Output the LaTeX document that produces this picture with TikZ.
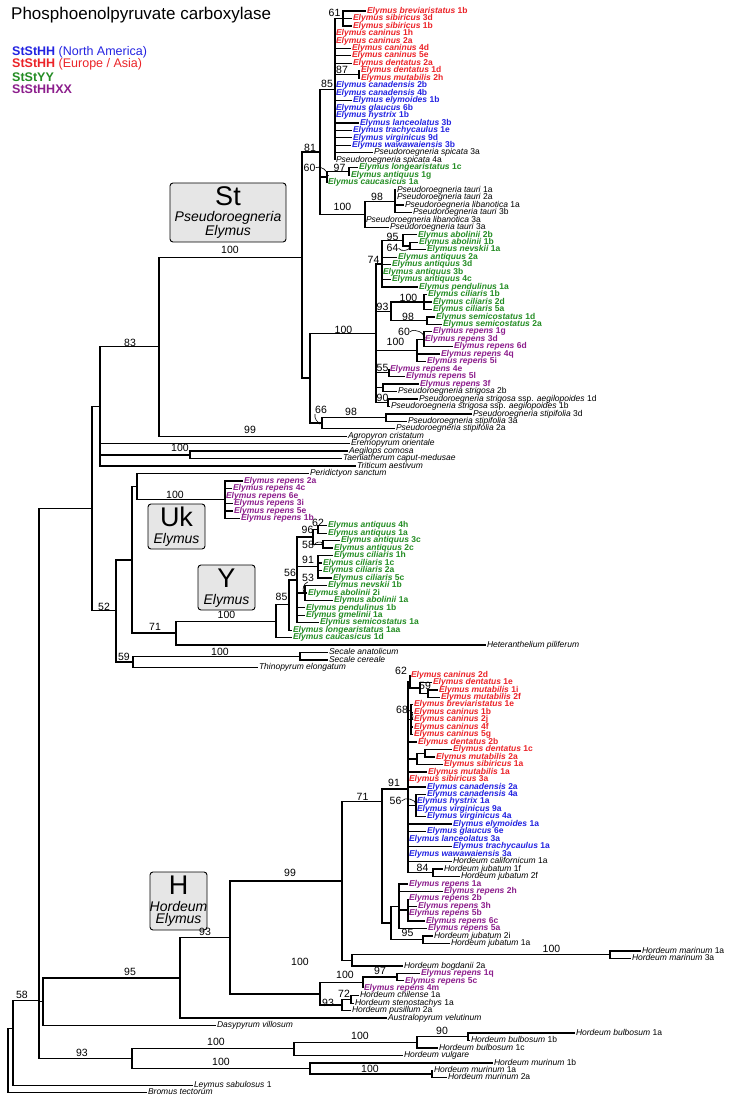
\documentclass[tikz,border=0pt]{standalone}
\usepackage{fontspec}
\setmainfont{Liberation Sans}
\usetikzlibrary{arrows.meta}
\definecolor{cna}{RGB}{35,35,225}
\definecolor{ceu}{RGB}{235,35,40}
\definecolor{cyy}{RGB}{35,140,35}
\definecolor{chx}{RGB}{140,30,140}
\definecolor{boxgray}{RGB}{230,230,230}
\newcommand{\tx}[2]{\textit{#1} #2}
\tikzset{
  lk/.style={anchor=west, inner xsep=0.8pt, inner ysep=0pt, text height=6pt, text depth=1.6pt, font=\fontsize{8.5}{9}\selectfont},
  ln/.style={lk, text=cna, font=\fontsize{8.5}{9}\selectfont\bfseries},
  le/.style={lk, text=ceu, font=\fontsize{8.5}{9}\selectfont\bfseries},
  lg/.style={lk, text=cyy, font=\fontsize{8.5}{9}\selectfont\bfseries},
  lp/.style={lk, text=chx, font=\fontsize{8.5}{9}\selectfont\bfseries},
  sv/.style={inner sep=0pt, font=\fontsize{10.5}{11}\selectfont},
  br/.style={line width=1.35pt},
  hook/.style={line width=0.6pt, -{Stealth[length=2.5pt,width=2.5pt]}},
  clade/.style={draw, line width=0.9pt, fill=boxgray, rounded corners=3pt},
  big/.style={inner sep=0pt, font=\fontsize{27}{27}\selectfont},
  genus/.style={inner sep=0pt, font=\fontsize{14}{14}\selectfont\itshape},
  legend/.style={anchor=west, inner sep=0pt, font=\fontsize{12.5}{13}\selectfont}
}
\begin{document}
\begin{tikzpicture}[x=1pt, y=-7.46pt]
\useasboundingbox (0pt,0pt) rectangle (733pt,-1102pt);
% title and legend
\node[anchor=base west, inner sep=0pt, font=\fontsize{17}{18}\selectfont] (title) at (11pt,-20pt) {Phosphoenolpyruvate carboxylase};
\node[legend] (gna) at (12pt,-52pt) {\textcolor{cna}{\textbf{StStHH} (North America)}};
\node[legend] (geu) at (12pt,-64.5pt) {\textcolor{ceu}{\textbf{StStHH} (Europe / Asia)}};
\node[legend] (gyy) at (12pt,-77pt) {\textcolor{cyy}{\textbf{StStYY}}};
\node[legend] (ghx) at (12pt,-89.5pt) {\textcolor{chx}{\textbf{StStHHXX}}};
% genome boxes
\draw[clade] (170pt,-183pt) rectangle (286pt,-242pt);
\node[big] (tst) at (228pt,-196pt) {St};
\node[genus] (gst1) at (228pt,-218pt) {Pseudoroegneria};
\node[genus] (gst2) at (228pt,-232pt) {Elymus};
\draw[clade] (148pt,-504pt) rectangle (205pt,-549pt);
\node[big] (tuk) at (176.5pt,-517pt) {Uk};
\node[genus] (guk) at (176.5pt,-540pt) {Elymus};
\draw[clade] (198pt,-565pt) rectangle (255pt,-610pt);
\node[big] (tyy) at (226.5pt,-578pt) {Y};
\node[genus] (gyy2) at (226.5pt,-600.5pt) {Elymus};
\draw[clade] (150pt,-872pt) rectangle (207pt,-930pt);
\node[big] (thh) at (178.5pt,-885pt) {H};
\node[genus] (ghh1) at (178.5pt,-906pt) {Hordeum};
\node[genus] (ghh2) at (178.5pt,-920pt) {Elymus};
\begin{scope}[yshift=-3.54pt]
% ---------------- St clade ----------------
\node[le] (brev1b) at (366,1) {\tx{Elymus breviaristatus}{1b}};
\node[le] (sib3d) at (352,2) {\tx{Elymus sibiricus}{3d}};
\node[le] (sib1b) at (352,3) {\tx{Elymus sibiricus}{1b}};
\node[le] (can1h) at (335,4) {\tx{Elymus caninus}{1h}};
\node[le] (can2a) at (335,5) {\tx{Elymus caninus}{2a}};
\node[le] (can4d) at (351,6) {\tx{Elymus caninus}{4d}};
\node[le] (can5e) at (351,7) {\tx{Elymus caninus}{5e}};
\node[le] (den2a) at (352,8) {\tx{Elymus dentatus}{2a}};
\node[le] (den1d) at (360,9) {\tx{Elymus dentatus}{1d}};
\node[le] (mut2h) at (360,10) {\tx{Elymus mutabilis}{2h}};
\node[ln] (cnd2b) at (335,11) {\tx{Elymus canadensis}{2b}};
\node[ln] (cnd4b) at (335,12) {\tx{Elymus canadensis}{4b}};
\node[ln] (ely1b) at (352,13) {\tx{Elymus elymoides}{1b}};
\node[ln] (gla6b) at (335,14) {\tx{Elymus glaucus}{6b}};
\node[ln] (hys1b) at (335,15) {\tx{Elymus hystrix}{1b}};
\node[ln] (lan3b) at (359,16) {\tx{Elymus lanceolatus}{3b}};
\node[ln] (tra1e) at (352,17) {\tx{Elymus trachycaulus}{1e}};
\node[ln] (vir9d) at (352,18) {\tx{Elymus virginicus}{9d}};
\node[ln] (waw3b) at (351,19) {\tx{Elymus wawawaiensis}{3b}};
\node[lk] (spi3a) at (373,20) {\tx{Pseudoroegneria spicata}{3a}};
\node[lk] (spi4a) at (335,21) {\tx{Pseudoroegneria spicata}{4a}};
\node[lg] (lon1c) at (358,22) {\tx{Elymus longearistatus}{1c}};
\node[lg] (ant1g) at (350,23) {\tx{Elymus antiquus}{1g}};
\node[lg] (cau1a) at (327,24) {\tx{Elymus caucasicus}{1a}};
\node[lk] (tau1a) at (396,25) {\tx{Pseudoroegneria tauri}{1a}};
\node[lk] (tau2a) at (396,26) {\tx{Pseudoroegneria tauri}{2a}};
\node[lk] (lib1a) at (404,27) {\tx{Pseudoroegneria libanotica}{1a}};
\node[lk] (tau3b) at (412,28) {\tx{Pseudoroegneria tauri}{3b}};
\node[lk] (lib3a) at (365,29) {\tx{Pseudoroegneria libanotica}{3a}};
\node[lk] (tau3a) at (389,30) {\tx{Pseudoroegneria tauri}{3a}};
\node[lg] (abo2b) at (417,31) {\tx{Elymus abolinii}{2b}};
\node[lg] (abo1b) at (418,32) {\tx{Elymus abolinii}{1b}};
\node[lg] (nev1a) at (426,33) {\tx{Elymus nevskii}{1a}};
\node[lg] (ant2a) at (397,34) {\tx{Elymus antiquus}{2a}};
\node[lg] (ant3d) at (391,35) {\tx{Elymus antiquus}{3d}};
\node[lg] (ant3b) at (382,36) {\tx{Elymus antiquus}{3b}};
\node[lg] (ant4c) at (391,37) {\tx{Elymus antiquus}{4c}};
\node[lg] (pen1a) at (418,38) {\tx{Elymus pendulinus}{1a}};
\node[lg] (cil1b) at (427,39) {\tx{Elymus ciliaris}{1b}};
\node[lg] (cil2d) at (432,40) {\tx{Elymus ciliaris}{2d}};
\node[lg] (cil5a) at (432,41) {\tx{Elymus ciliaris}{5a}};
\node[lg] (sem1d) at (435,42) {\tx{Elymus semicostatus}{1d}};
\node[lg] (sem2a) at (442,43) {\tx{Elymus semicostatus}{2a}};
\node[lp] (rep1g) at (432,44) {\tx{Elymus repens}{1g}};
\node[lp] (rep3d) at (424,45) {\tx{Elymus repens}{3d}};
\node[lp] (rep6d) at (453,46) {\tx{Elymus repens}{6d}};
\node[lp] (rep4q) at (440,47) {\tx{Elymus repens}{4q}};
\node[lp] (rep5i) at (426,48) {\tx{Elymus repens}{5i}};
\node[lp] (rep4e) at (389,49) {\tx{Elymus repens}{4e}};
\node[lp] (rep5l) at (405,50) {\tx{Elymus repens}{5l}};
\node[lp] (rep3f) at (419,51) {\tx{Elymus repens}{3f}};
\node[lk] (str2b) at (397,52) {\tx{Pseudoroegneria strigosa}{2b}};
\node[lk] (sta1d) at (418,53) {\tx{Pseudoroegneria strigosa}{ssp. \textit{aegilopoides} 1d}};
\node[lk] (sta1b) at (390,54) {\tx{Pseudoroegneria strigosa}{ssp. \textit{aegilopoides} 1b}};
\node[lk] (stp3d) at (472,55) {\tx{Pseudoroegneria stipifolia}{3d}};
\node[lk] (stp3a) at (407,56) {\tx{Pseudoroegneria stipifolia}{3a}};
\node[lk] (stp2a) at (395,57) {\tx{Pseudoroegneria stipifolia}{2a}};
\node[lk] (agr) at (347,58) {\textit{Agropyron cristatum}};
\node[lk] (ere) at (350,59) {\textit{Eremopyrum orientale}};
\node[lk] (aeg) at (348,60) {\textit{Aegilops comosa}};
\node[lk] (tae) at (342,61) {\textit{Taeniatherum caput-medusae}};
\node[lk] (tri) at (356,62) {\textit{Triticum aestivum}};
\coordinate (n61) at (343,2);
\coordinate (n87) at (359,9.5);
\coordinate (n85) at (335,11.5);
\coordinate (n97a) at (349,22.5);
\coordinate (n60a) at (327,23.25);
\coordinate (n98t) at (395,26.5);
\coordinate (n100t) at (365,28.3);
\coordinate (n81) at (320,19.9);
\coordinate (n64a) at (410,32.5);
\coordinate (n95a) at (403,31.75);
\coordinate (n74) at (382,34.9);
\coordinate (n100c) at (424,40);
\coordinate (n98s) at (427,42.5);
\coordinate (n93a) at (391,41.25);
\coordinate (n60r) at (424,45);
\coordinate (n100r) at (417,46.5);
\coordinate (n55) at (389,49.5);
\coordinate (nrs) at (383,51.5);
\coordinate (n90) at (388,53.5);
\coordinate (n100b) at (376,44.2);
\coordinate (n98p) at (386,55.5);
\coordinate (n66) at (322,56.25);
\coordinate (nsl) at (310,50.2);
\coordinate (nst) at (302,34);
\coordinate (n83) at (159,46);
\coordinate (nat) at (190,60.5);
\coordinate (nt1) at (100,54);
\draw[br] (n61) |- (brev1b.west) (n61) |- (sib3d.west) (n61) |- (sib1b.west)
  (n87) |- (den1d.west) (n87) |- (mut2h.west)
  (n85) |- (n61) (n85) |- (can1h.west) (n85) |- (can2a.west) (n85) |- (can4d.west)
  (n85) |- (can5e.west) (n85) |- (den2a.west) (n85) |- (n87) (n85) |- (cnd2b.west)
  (n85) |- (cnd4b.west) (n85) |- (ely1b.west) (n85) |- (gla6b.west) (n85) |- (hys1b.west)
  (n85) |- (lan3b.west) (n85) |- (tra1e.west) (n85) |- (vir9d.west) (n85) |- (waw3b.west)
  (n85) |- (spi3a.west) (n85) |- (spi4a.west)
  (n97a) |- (lon1c.west) (n97a) |- (ant1g.west)
  (n60a) |- (n97a) (n60a) |- (cau1a.west)
  (n98t) |- (tau1a.west) (n98t) |- (tau2a.west) (n98t) |- (lib1a.west) (n98t) |- (tau3b.west)
  (n100t) |- (n98t) (n100t) |- (lib3a.west) (n100t) |- (tau3a.west)
  (n81) |- (n85) (n81) |- (n60a) (n81) |- (n100t);
\draw[br] (n64a) |- (abo1b.west) (n64a) |- (nev1a.west)
  (n95a) |- (abo2b.west) (n95a) |- (n64a)
  (n74) |- (n95a) (n74) |- (ant2a.west) (n74) |- (ant3d.west) (n74) |- (ant3b.west)
  (n74) |- (ant4c.west) (n74) |- (pen1a.west)
  (n100c) |- (cil1b.west) (n100c) |- (cil2d.west) (n100c) |- (cil5a.west)
  (n98s) |- (sem1d.west) (n98s) |- (sem2a.west)
  (n93a) |- (n100c) (n93a) |- (n98s)
  (n60r) |- (rep1g.west) (n60r) |- (rep3d.west) (n60r) |- (rep6d.west)
  (n100r) |- (n60r) (n100r) |- (rep4q.west) (n100r) |- (rep5i.west)
  (n55) |- (rep4e.west) (n55) |- (rep5l.west)
  (nrs) |- (rep3f.west) (nrs) |- (str2b.west)
  (n90) |- (sta1d.west) (n90) |- (sta1b.west)
  (n100b) |- (n74) (n100b) |- (n93a) (n100b) |- (n100r) (n100b) |- (n55)
  (n100b) |- (nrs) (n100b) |- (n90)
  (n98p) |- (stp3d.west) (n98p) |- (stp3a.west)
  (n66) |- (n98p) (n66) |- (stp2a.west)
  (nsl) |- (n100b) (nsl) |- (n66)
  (nst) |- (n81) (nst) |- (nsl)
  (n83) |- (nst) (n83) |- (agr.west)
  (nat) |- (aeg.west) (nat) |- (tae.west)
  (nt1) |- (n83) (nt1) |- (ere.west) (nt1) |- (nat) (nt1) |- (tri.west);
\node[sv] (s61) at (334.5,1.3) {61};
\node[sv] (s87) at (342,8.9) {87};
\node[sv] (s85) at (327,10.8) {85};
\node[sv] (s81) at (310,19.4) {81};
\node[sv] (s60a) at (309.5,22) {60};
\node[sv] (s97a) at (339.5,22) {97};
\node[sv] (s100t) at (342.5,27.3) {100};
\node[sv] (s98t) at (377,25.9) {98};
\node[sv] (s95a) at (392.5,31.3) {95};
\node[sv] (s64a) at (392.5,32.8) {64};
\node[sv] (s74) at (373.5,34.4) {74};
\node[sv] (s93a) at (382.5,40.7) {93};
\node[sv] (s100c) at (408.5,39.5) {100};
\node[sv] (s98s) at (408,42) {98};
\node[sv] (s100r) at (395.5,45.4) {100};
\node[sv] (s60r) at (404,44) {60};
\node[sv] (s55) at (382.5,48.9) {55};
\node[sv] (s90) at (382.5,52.8) {90};
\node[sv] (s100b) at (343.5,43.8) {100};
\node[sv] (s66) at (321,54.5) {66};
\node[sv] (s98p) at (351,54.8) {98};
\node[sv] (s100st) at (230,33) {100};
\node[sv] (s83) at (130,45.5) {83};
\node[sv] (s99) at (250,57.2) {99};
\node[sv] (s100at) at (180,59.5) {100};
\draw[hook] (s60a.east) to[bend left=70] (n60a);
\draw[hook] (s64a.east) to[bend right=70] (n64a);
\draw[hook] (s60r.east) to[bend left=70] (n60r);
\draw[hook] (s66.south west) to[bend right=50] (n66);
% ---------------- Uk, Y, Secale ----------------
\node[lk] (per) at (309,63) {\textit{Peridictyon sanctum}};
\node[lp] (rep2a) at (243,64) {\tx{Elymus repens}{2a}};
\node[lp] (rep4c) at (232,65) {\tx{Elymus repens}{4c}};
\node[lp] (rep6e) at (225,66) {\tx{Elymus repens}{6e}};
\node[lp] (rep3i) at (233,67) {\tx{Elymus repens}{3i}};
\node[lp] (rep5e) at (233,68) {\tx{Elymus repens}{5e}};
\node[lp] (rep1b) at (240,69) {\tx{Elymus repens}{1b}};
\node[lg] (ant4h) at (327,70) {\tx{Elymus antiquus}{4h}};
\node[lg] (ant1a) at (327,71) {\tx{Elymus antiquus}{1a}};
\node[lg] (ant3c) at (340,72) {\tx{Elymus antiquus}{3c}};
\node[lg] (ant2c) at (333,73) {\tx{Elymus antiquus}{2c}};
\node[lg] (cil1h) at (333,74) {\tx{Elymus ciliaris}{1h}};
\node[lg] (cil1c) at (322,75) {\tx{Elymus ciliaris}{1c}};
\node[lg] (cil2a) at (322,76) {\tx{Elymus ciliaris}{2a}};
\node[lg] (cil5c) at (332,77) {\tx{Elymus ciliaris}{5c}};
\node[lg] (nev1b) at (327,78) {\tx{Elymus nevskii}{1b}};
\node[lg] (abo2i) at (307,79) {\tx{Elymus abolinii}{2i}};
\node[lg] (abo1a) at (333,80) {\tx{Elymus abolinii}{1a}};
\node[lg] (pen1b) at (305,81) {\tx{Elymus pendulinus}{1b}};
\node[lg] (gme1a) at (305,82) {\tx{Elymus gmelinii}{1a}};
\node[lg] (sem1a) at (319,83) {\tx{Elymus semicostatus}{1a}};
\node[lg] (lon1aa) at (292,84) {\tx{Elymus longearistatus}{1aa}};
\node[lg] (cau1d) at (292,85) {\tx{Elymus caucasicus}{1d}};
\node[lk] (het) at (486,86) {\textit{Heteranthelium piliferum}};
\node[lk] (sea) at (328,87) {\textit{Secale anatolicum}};
\node[lk] (sec) at (328,88) {\textit{Secale cereale}};
\node[lk] (thi) at (258,89) {\textit{Thinopyrum elongatum}};
\coordinate (n100uk) at (225,66.5);
\coordinate (n137) at (137,64.75);
\coordinate (n62y) at (318,70.5);
\coordinate (n58y) at (323,72.5);
\coordinate (n96) at (313,71.5);
\coordinate (n91y) at (318,75.5);
\coordinate (n53) at (305,79);
\coordinate (n56y) at (297,77.25);
\coordinate (n85y) at (289,80.6);
\coordinate (n100y) at (276,82.8);
\coordinate (n71y) at (176,84.4);
\coordinate (n132) at (132,74.6);
\coordinate (n100s) at (300,87.5);
\coordinate (n59) at (133,88.25);
\coordinate (n52) at (116,81.4);
\coordinate (nt2) at (92,67.7);
\draw[br] (n100uk) |- (rep2a.west) (n100uk) |- (rep4c.west) (n100uk) |- (rep6e.west)
  (n100uk) |- (rep3i.west) (n100uk) |- (rep5e.west) (n100uk) |- (rep1b.west)
  (n137) |- (per.west) (n137) |- (n100uk)
  (n62y) |- (ant4h.west) (n62y) |- (ant1a.west)
  (n58y) |- (ant3c.west) (n58y) |- (ant2c.west)
  (n96) |- (n62y) (n96) |- (n58y)
  (n91y) |- (cil1h.west) (n91y) |- (cil1c.west) (n91y) |- (cil2a.west) (n91y) |- (cil5c.west)
  (n53) |- (nev1b.west) (n53) |- (abo2i.west) (n53) |- (abo1a.west)
  (n56y) |- (n96) (n56y) |- (n91y) (n56y) |- (n53) (n56y) |- (pen1b.west)
  (n56y) |- (gme1a.west) (n56y) |- (sem1a.west)
  (n85y) |- (n56y) (n85y) |- (lon1aa.west)
  (n100y) |- (n85y) (n100y) |- (cau1d.west)
  (n71y) |- (n100y) (n71y) |- (het.west)
  (n132) |- (n137) (n132) |- (n71y)
  (n100s) |- (sea.west) (n100s) |- (sec.west)
  (n59) |- (n100s) (n59) |- (thi.west)
  (n52) |- (n132) (n52) |- (n59)
  (nt2) |- (nt1) (nt2) |- (n52);
\node[sv] (s100uk) at (175,65.9) {100};
\node[sv] (s96) at (307.5,70.6) {96};
\node[sv] (s62y) at (318,69.6) {62};
\node[sv] (s58y) at (308,72.6) {58};
\node[sv] (s91y) at (308,74.6) {91};
\node[sv] (s53) at (308,77) {53};
\node[sv] (s56y) at (290,76.3) {56};
\node[sv] (s85y) at (281.5,79.6) {85};
\node[sv] (s100y) at (226.5,81.96) {100};
\node[sv] (s71y) at (155,83.6) {71};
\node[sv] (s100s) at (220,86.9) {100};
\node[sv] (s59) at (124,87.6) {59};
\node[sv] (s52) at (104,80.9) {52};
\draw[hook] (s58y.east) to[bend left=70] (n58y);
\draw[hook] (s53.south) to[bend right=60] (n53);
% ---------------- H clade ----------------
\node[le] (can2d) at (410,90) {\tx{Elymus caninus}{2d}};
\node[le] (den1e) at (432,91) {\tx{Elymus dentatus}{1e}};
\node[le] (mut1i) at (438,92) {\tx{Elymus mutabilis}{1i}};
\node[le] (mut2f) at (440,93) {\tx{Elymus mutabilis}{2f}};
\node[le] (bre1e) at (413,94) {\tx{Elymus breviaristatus}{1e}};
\node[le] (can1b) at (413,95) {\tx{Elymus caninus}{1b}};
\node[le] (can2j) at (413,96) {\tx{Elymus caninus}{2j}};
\node[le] (can4f) at (413,97) {\tx{Elymus caninus}{4f}};
\node[le] (can5g) at (413,98) {\tx{Elymus caninus}{5g}};
\node[le] (den2b) at (417,99) {\tx{Elymus dentatus}{2b}};
\node[le] (den1c) at (452,100) {\tx{Elymus dentatus}{1c}};
\node[le] (mut2a) at (435,101) {\tx{Elymus mutabilis}{2a}};
\node[le] (sib1a) at (443,102) {\tx{Elymus sibiricus}{1a}};
\node[le] (mut1a) at (427,103) {\tx{Elymus mutabilis}{1a}};
\node[le] (sib3a) at (408,104) {\tx{Elymus sibiricus}{3a}};
\node[ln] (cnd2a) at (426,105) {\tx{Elymus canadensis}{2a}};
\node[ln] (cnd4a) at (426,106) {\tx{Elymus canadensis}{4a}};
\node[ln] (hys1a) at (416,107) {\tx{Elymus hystrix}{1a}};
\node[ln] (vir9a) at (416,108) {\tx{Elymus virginicus}{9a}};
\node[ln] (vir4a) at (426,109) {\tx{Elymus virginicus}{4a}};
\node[ln] (ely1a) at (452,110) {\tx{Elymus elymoides}{1a}};
\node[ln] (gla6e) at (426,111) {\tx{Elymus glaucus}{6e}};
\node[ln] (lan3a) at (408,112) {\tx{Elymus lanceolatus}{3a}};
\node[ln] (tra1a) at (452,113) {\tx{Elymus trachycaulus}{1a}};
\node[ln] (waw3a) at (408,114) {\tx{Elymus wawawaiensis}{3a}};
\node[lk] (cal1a) at (452,115) {\tx{Hordeum californicum}{1a}};
\node[lk] (jub1f) at (443,116) {\tx{Hordeum jubatum}{1f}};
\node[lk] (jub2f) at (460,117) {\tx{Hordeum jubatum}{2f}};
\node[lp] (rep1a) at (408,118) {\tx{Elymus repens}{1a}};
\node[lp] (rep2h) at (443,119) {\tx{Elymus repens}{2h}};
\node[lp] (rep2b) at (408,120) {\tx{Elymus repens}{2b}};
\node[lp] (rep3h) at (417,121) {\tx{Elymus repens}{3h}};
\node[lp] (rep5b) at (408,122) {\tx{Elymus repens}{5b}};
\node[lp] (rep6c) at (425,123) {\tx{Elymus repens}{6c}};
\node[lp] (rep5a) at (427,124) {\tx{Elymus repens}{5a}};
\node[lk] (jub2i) at (433,125) {\tx{Hordeum jubatum}{2i}};
\node[lk] (jub1a) at (450,126) {\tx{Hordeum jubatum}{1a}};
\node[lk] (mar1a) at (641,127) {\tx{Hordeum marinum}{1a}};
\node[lk] (mar3a) at (631,128) {\tx{Hordeum marinum}{3a}};
\node[lk] (bog2a) at (403,129) {\tx{Hordeum bogdanii}{2a}};
\node[lp] (rep1q) at (420,130) {\tx{Elymus repens}{1q}};
\node[lp] (rep5c) at (404,131) {\tx{Elymus repens}{5c}};
\node[lp] (rep4m) at (363,132) {\tx{Elymus repens}{4m}};
\node[lk] (chi1a) at (359,133) {\tx{Hordeum chilense}{1a}};
\node[lk] (ste1a) at (354,134) {\tx{Hordeum stenostachys}{1a}};
\node[lk] (pus2a) at (351,135) {\tx{Hordeum pusillum}{2a}};
\node[lk] (aus) at (387,136) {\textit{Australopyrum velutinum}};
\node[lk] (das) at (216,137) {\textit{Dasypyrum villosum}};
\node[lk] (bul1a) at (575,138) {\tx{Hordeum bulbosum}{1a}};
\node[lk] (bul1b) at (470,139) {\tx{Hordeum bulbosum}{1b}};
\node[lk] (bul1c) at (438,140) {\tx{Hordeum bulbosum}{1c}};
\node[lk] (vul) at (403,141) {\textit{Hordeum vulgare}};
\node[lk] (mur1b) at (493,142) {\tx{Hordeum murinum}{1b}};
\node[lk] (mur1a) at (433,143) {\tx{Hordeum murinum}{1a}};
\node[lk] (mur2a) at (447,144) {\tx{Hordeum murinum}{2a}};
\node[lk] (ley) at (193,145) {\tx{Leymus sabulosus}{1}};
\node[lk] (bro) at (147,146) {\textit{Bromus tectorum}};
\coordinate (nmm) at (428,92.5);
\coordinate (n59h) at (420,91.75);
\coordinate (n62h) at (410,90.9);
\coordinate (n68) at (411,96);
\coordinate (nb) at (425,100.5);
\coordinate (na) at (417,101.25);
\coordinate (n56h) at (416,107.5);
\coordinate (n84) at (433,116.5);
\coordinate (n91h) at (408,105.3);
\coordinate (nr8) at (408,121.5);
\coordinate (nrep) at (399,121);
\coordinate (n95j) at (423,125.5);
\coordinate (nbig) at (391,123.25);
\coordinate (n71h) at (382,107);
\coordinate (n100m) at (610,127.5);
\coordinate (nhb) at (352,128.25);
\coordinate (n99h) at (342,117.6);
\coordinate (n97h) at (397,130.5);
\coordinate (n100r2) at (363,131.25);
\coordinate (n72) at (351,133.5);
\coordinate (n93h2) at (342,134.25);
\coordinate (n100x) at (320,132.75);
\coordinate (n93H) at (230,125.2);
\coordinate (nH) at (180,130.6);
\coordinate (nd) at (43,133.8);
\coordinate (n90bu) at (468,138.5);
\coordinate (n100b2) at (417,139.25);
\coordinate (n100bu) at (294,140.1);
\coordinate (n100m2) at (432,143.5);
\coordinate (n100mu) at (310,142.75);
\coordinate (n93bm) at (132,141.4);
\coordinate (nc) at (39,133.6);
\coordinate (nA) at (13,137.4);
\coordinate (nroot) at (8,141.7);
\draw[br] (nmm) |- (mut1i.west) (nmm) |- (mut2f.west)
  (n59h) |- (den1e.west) (n59h) |- (nmm)
  (n62h) |- (can2d.west) (n62h) |- (n59h)
  (n68) |- (bre1e.west) (n68) |- (can1b.west) (n68) |- (can2j.west) (n68) |- (can4f.west) (n68) |- (can5g.west)
  (nb) |- (den1c.west) (nb) |- (mut2a.west)
  (na) |- (nb) (na) |- (sib1a.west)
  (n56h) |- (cnd4a.west) (n56h) |- (hys1a.west) (n56h) |- (vir9a.west) (n56h) |- (vir4a.west)
  (n84) |- (jub1f.west) (n84) |- (jub2f.west)
  (n91h) |- (n62h) (n91h) |- (n68) (n91h) |- (den2b.west) (n91h) |- (na) (n91h) |- (mut1a.west)
  (n91h) |- (sib3a.west) (n91h) |- (cnd2a.west) (n91h) |- (n56h) (n91h) |- (ely1a.west)
  (n91h) |- (gla6e.west) (n91h) |- (lan3a.west) (n91h) |- (tra1a.west) (n91h) |- (waw3a.west)
  (n91h) |- (cal1a.west) (n91h) |- (n84)
  (nr8) |- (rep2b.west) (nr8) |- (rep3h.west) (nr8) |- (rep5b.west) (nr8) |- (rep6c.west)
  (nrep) |- (rep1a.west) (nrep) |- (rep2h.west) (nrep) |- (nr8) (nrep) |- (rep5a.west)
  (n95j) |- (jub2i.west) (n95j) |- (jub1a.west)
  (nbig) |- (nrep) (nbig) |- (n95j)
  (n71h) |- (n91h) (n71h) |- (nbig)
  (n100m) |- (mar1a.west) (n100m) |- (mar3a.west)
  (nhb) |- (n100m) (nhb) |- (bog2a.west)
  (n99h) |- (n71h) (n99h) |- (nhb)
  (n97h) |- (rep1q.west) (n97h) |- (rep5c.west)
  (n100r2) |- (n97h) (n100r2) |- (rep4m.west)
  (n72) |- (chi1a.west) (n72) |- (ste1a.west)
  (n93h2) |- (n72) (n93h2) |- (pus2a.west)
  (n100x) |- (n100r2) (n100x) |- (n93h2)
  (n93H) |- (n99h) (n93H) |- (n100x)
  (nH) |- (n93H) (nH) |- (aus.west)
  (nd) |- (nH) (nd) |- (das.west)
  (n90bu) |- (bul1a.west) (n90bu) |- (bul1b.west)
  (n100b2) |- (n90bu) (n100b2) |- (bul1c.west)
  (n100bu) |- (n100b2) (n100bu) |- (vul.west)
  (n100m2) |- (mur1a.west) (n100m2) |- (mur2a.west)
  (n100mu) |- (mur1b.west) (n100mu) |- (n100m2)
  (n93bm) |- (n100bu) (n93bm) |- (n100mu)
  (nc) |- (nt2) (nc) |- (nd) (nc) |- (n93bm)
  (nA) |- (nc) (nA) |- (ley.west)
  (nroot) |- (nA) (nroot) |- (bro.west);
\node[sv] (s62h) at (401,89.4) {62};
\node[sv] (s59h) at (425,91.5) {59};
\node[sv] (s68) at (402,94.7) {68};
\node[sv] (s91h) at (394,104.5) {91};
\node[sv] (s56h) at (395.5,106.9) {56};
\node[sv] (s84) at (422.5,115.9) {84};
\node[sv] (s71h) at (362.5,106.4) {71};
\node[sv] (s95j) at (407.5,124.6) {95};
\node[sv] (s100m) at (551.5,126.7) {100};
\node[sv] (s97h) at (380,129.7) {97};
\node[sv] (s100r2) at (345,130.2) {100};
\node[sv] (s72) at (344,132.7) {72};
\node[sv] (s93h2) at (328,133.9) {93};
\node[sv] (s99h) at (290,116.5) {99};
\node[sv] (s100x) at (300,128.5) {100};
\node[sv] (s93H) at (205,124.5) {93};
\node[sv] (s95H) at (130,129.8) {95};
\node[sv] (s58) at (22,132.9) {58};
\node[sv] (s93bm) at (82,140.6) {93};
\node[sv] (s100bu) at (216,139.2) {100};
\node[sv] (s100b2) at (360,138.4) {100};
\node[sv] (s90bu) at (442,137.7) {90};
\node[sv] (s100mu) at (221,141.9) {100};
\node[sv] (s100m2) at (370,142.8) {100};
\draw[hook] (s68.east) to[bend left=70] (n68);
\draw[hook] (s56h.east) to[bend left=70] (n56h);
\end{scope}
\end{tikzpicture}
\end{document}
